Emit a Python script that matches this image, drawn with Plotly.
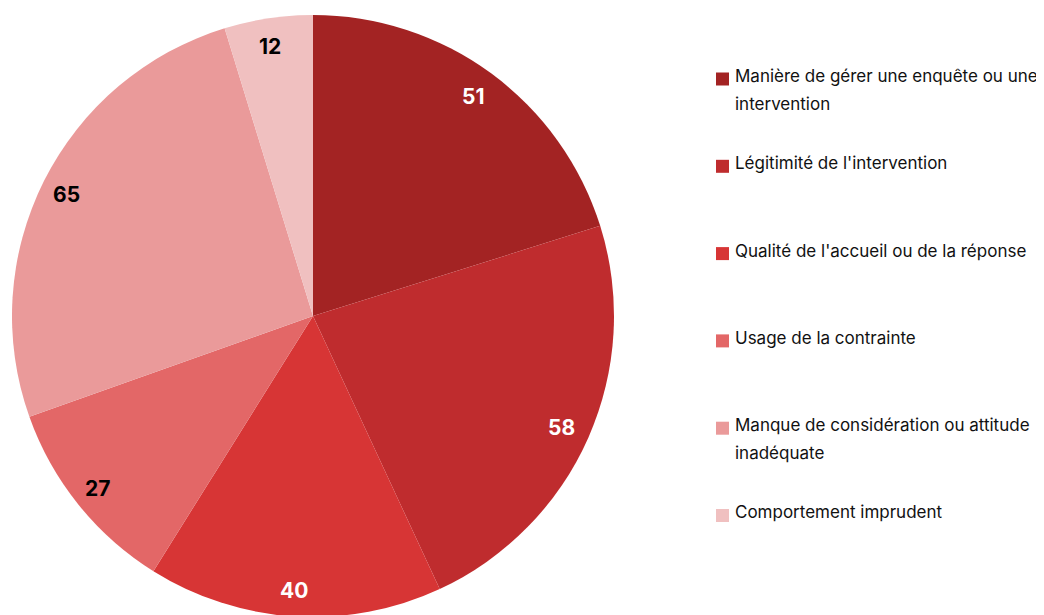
import math
import plotly.graph_objects as go

categories = [
    "Manière de gérer une enquête ou une<br>intervention",
    "Légitimité de l'intervention",
    "Qualité de l'accueil ou de la réponse",
    "Usage de la contrainte",
    "Manque de considération ou attitude<br>inadéquate",
    "Comportement imprudent",
]
values = [51, 58, 40, 27, 65, 12]
colors = ["#A32323", "#BF2C2E", "#D73535", "#E36767", "#EA9A9A", "#F0C0C0"]
label_colors = ["white", "white", "white", "black", "black", "black"]

FONT = "Inter, Liberation Sans, sans-serif"
W, H = 1044, 615
mt, mb, ml, mr = 7, 6, 0, 0
plot_w, plot_h = W - ml - mr, H - mt - mb
R = plot_h / 2
cx_px = 305.0          # pie centre in plot-area pixels
cy_px = plot_h / 2

fig = go.Figure(go.Pie(
    labels=[c.replace("<br>", " ") for c in categories],
    values=values,
    sort=False,
    direction="clockwise",
    rotation=0,
    marker=dict(colors=colors, line=dict(width=0)),
    textinfo="none",
    hoverinfo="label+value",
    showlegend=False,
    domain=dict(x=[(cx_px - R) / plot_w, (cx_px + R) / plot_w], y=[0, 1]),
))


def to_paper(px, py):
    return px / plot_w, 1 - py / plot_h


annotations = []
shapes = []

# value labels inside slices
total = sum(values)
cum = 0
for v, col in zip(values, label_colors):
    mid = (cum + v / 2) / total * 2 * math.pi
    cum += v
    r = 0.91 * R
    x, y = to_paper(cx_px - 2 + r * math.sin(mid), cy_px - r * math.cos(mid) + 1)
    annotations.append(dict(
        x=x, y=y, xref="paper", yref="paper", xanchor="center", yanchor="middle",
        text=f"<b>{v}</b>", showarrow=False,
        font=dict(size=21, color=col, family=FONT),
    ))

# legend (drawn manually for exact spacing)
leg_sq_x = 708          # square left (plot px)
leg_txt_x = 725         # text left (plot px)
leg_y0 = 68 - mt        # first line centre (plot px)
leg_gap = 87.3
line_gap = 27.7
sq = 13
for i, (cat, col) in enumerate(zip(categories, colors)):
    yc = leg_y0 + i * leg_gap
    x0, y0 = to_paper(leg_sq_x, yc + 3 - sq / 2)
    x1, y1 = to_paper(leg_sq_x + sq, yc + 3 + sq / 2)
    shapes.append(dict(type="rect", xref="paper", yref="paper",
                       x0=x0, x1=x1, y0=y1, y1=y0,
                       fillcolor=col, line=dict(width=0)))
    for j, line in enumerate(cat.split("<br>")):
        x, y = to_paper(leg_txt_x, yc + j * line_gap)
        annotations.append(dict(
            x=x, y=y, xref="paper", yref="paper", xanchor="left", yanchor="middle",
            text=line, showarrow=False,
            font=dict(size=17, color="#111111", family=FONT),
        ))

fig.update_layout(
    width=W, height=H,
    margin=dict(l=ml, r=mr, t=mt, b=mb),
    paper_bgcolor="white", plot_bgcolor="white",
    annotations=annotations,
    shapes=shapes,
)

fig.write_html("out.html")
